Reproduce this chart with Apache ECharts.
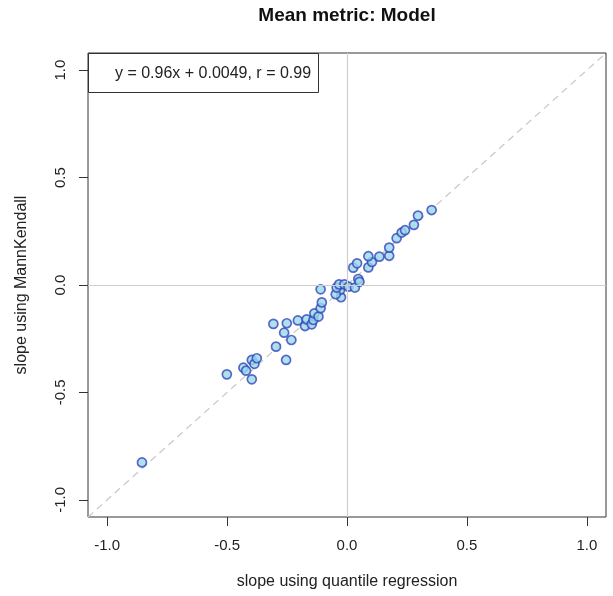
<!DOCTYPE html>
<html><head><meta charset="utf-8">
<script src="https://cdn.jsdelivr.net/npm/echarts@6/dist/echarts.min.js"></script>
<style>html,body{margin:0;padding:0;background:#fff}#c{width:613px;height:596px}</style>
</head><body><div id="c"></div>
<script>
// slope using quantile regression (x) vs slope using MannKendall (y)
const xValues = [-0.855,-0.501,-0.432,-0.421,-0.397,-0.397,-0.386,-0.376,-0.307,-0.296,-0.254,-0.262,-0.251,-0.232,-0.205,-0.175,-0.168,-0.147,-0.140,-0.136,-0.119,-0.110,-0.105,-0.110,-0.025,-0.029,-0.047,-0.043,-0.033,-0.011,0.006,0.033,0.047,0.052,0.026,0.042,0.089,0.104,0.089,0.135,0.176,0.176,0.207,0.228,0.242,0.279,0.296,0.353];
const yValues = [-0.826,-0.416,-0.385,-0.399,-0.439,-0.349,-0.367,-0.341,-0.181,-0.287,-0.349,-0.222,-0.178,-0.256,-0.165,-0.191,-0.160,-0.183,-0.163,-0.132,-0.147,-0.108,-0.081,-0.020,-0.057,-0.023,-0.043,-0.012,0.003,0.003,-0.008,-0.012,0.028,0.015,0.081,0.101,0.082,0.107,0.134,0.132,0.136,0.174,0.218,0.244,0.255,0.280,0.323,0.349];
const tickValues = [-1, -0.5, 0, 0.5, 1];
const axisRange = [-1.08, 1.08];
const titleText = 'Mean metric: Model';
const xName = 'slope using quantile regression';
const yName = 'slope using MannKendall';
const fitText = 'y = 0.96x + 0.0049, r = 0.99';

const FONT = 'Liberation Sans, Arial, sans-serif';
const points = xValues.map((x, i) => [x, yValues[i]]);

function axis(name, isY) {
  return {
    type: 'value', min: axisRange[0], max: axisRange[1],
    splitLine: {show: false},
    axisLine: {show: false, onZero: false},
    axisTick: {show: true, customValues: tickValues, length: 9, lineStyle: {color: '#333', width: 1}},
    axisLabel: {customValues: tickValues, formatter: v => v.toFixed(1), margin: isY ? 20 : 21,
      rotate: isY ? 90 : 0, fontSize: 15, color: '#222', fontFamily: FONT},
    name: name, nameLocation: 'middle', nameGap: isY ? 58 : 57,
    nameTextStyle: {fontSize: 16, color: '#222', fontFamily: FONT}
  };
}

const chart = echarts.init(document.getElementById('c'));
chart.setOption({
  animation: false,
  backgroundColor: '#fff',
  title: {text: titleText, left: 347, top: 6, textAlign: 'center', padding: 0,
    textStyle: {fontSize: 19, fontWeight: 'bold', color: '#111', fontFamily: FONT}},
  grid: {left: 88, top: 53, width: 518, height: 464, show: true, borderColor: '#333', borderWidth: 1, backgroundColor: 'transparent'},
  xAxis: axis(xName, false),
  yAxis: axis(yName, true),
  series: [
    {type: 'line', z: 1, silent: true, symbol: 'none', data: [[axisRange[0], axisRange[0]], [axisRange[1], axisRange[1]]],
      lineStyle: {color: '#c8c8c8', width: 1.2, type: [7, 5]},
      markLine: {silent: true, symbol: ['none', 'none'], label: {show: false},
        lineStyle: {color: '#cfcfcf', width: 1.2, type: 'solid'},
        data: [{xAxis: 0}, {yAxis: 0}]}},
    {type: 'scatter', z: 3, data: points, symbol: 'circle', symbolSize: 9,
      itemStyle: {color: '#9ad8ec', borderColor: '#3346b8', borderWidth: 1.7}}
  ],
  graphic: [
    {type: 'rect', z: 100, shape: {x: 88.5, y: 53.5, width: 230, height: 39}, style: {fill: '#fff', stroke: '#333', lineWidth: 1}},
    {type: 'text', z: 101, x: 213, y: 74, style: {text: fitText, fontSize: 16, fontFamily: FONT, fill: '#222', align: 'center', verticalAlign: 'middle'}}
  ]
});
</script></body></html>
